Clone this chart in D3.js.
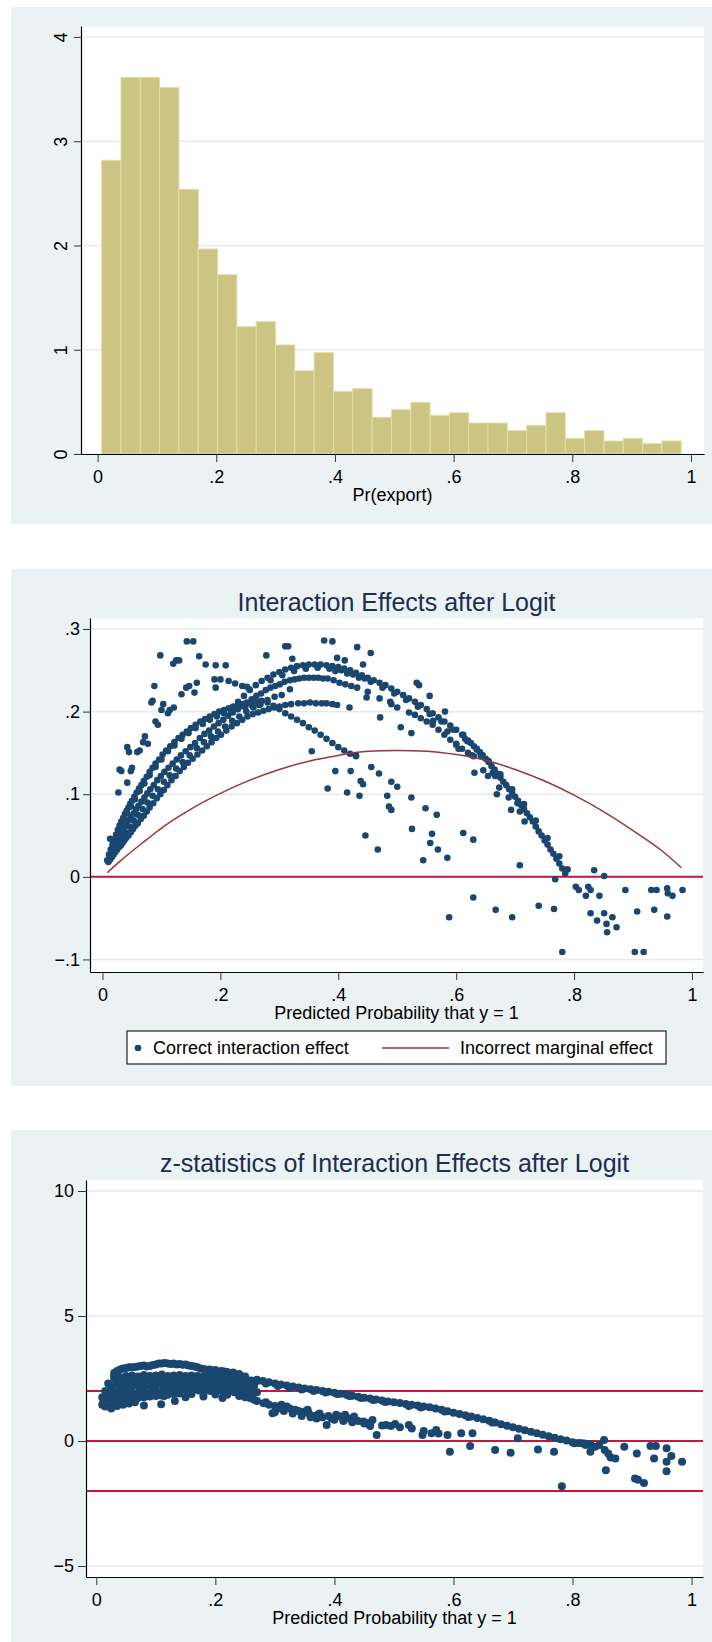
<!DOCTYPE html>
<html>
<head>
<meta charset="utf-8">
<script src="https://cdn.jsdelivr.net/npm/d3@7"></script>
<style>
body { margin: 0; background: #fff; }
text { font-family: "Liberation Sans", Arial, sans-serif; }
</style>
</head>
<body>
<script>
// ---------- data ----------
// histogram of Pr(export): 30 bins, density heights
var histStart = 0.0068, histWidth = 0.03256;
var histDensity = [2.817, 3.613, 3.613, 3.514, 2.539, 1.966, 1.720, 1.221, 1.269, 1.046,
                   0.799, 0.972, 0.601, 0.627, 0.352, 0.425, 0.496, 0.371, 0.396, 0.297,
                   0.297, 0.224, 0.275, 0.396, 0.150, 0.224, 0.125, 0.150, 0.099, 0.125];
var histYTicks = [0, 1, 2, 3, 4];
var probTicks = [0, 0.2, 0.4, 0.6, 0.8, 1];

// interaction effect (panel 2) - bands
var ieBandA = [[.008,.020],[.011,.027],[.014,.033],[.017,.039],[.020,.045],[.023,.051],[.026,.057],[.029,.062],
  [.032,.067],[.035,.071],[.038,.076],[.041,.080],[.044,.084],[.047,.088],[.050,.092],[.054,.097],[.058,.102],
  [.062,.107],[.066,.111],[.070,.116],[.075,.121],[.080,.127],[.085,.132],[.090,.137],[.096,.142],[.102,.148],
  [.108,.153],[.115,.158],[.122,.163],[.129,.168],[.136,.172],[.143,.176],[.150,.180],[.158,.184],[.166,.188],
  [.174,.191],[.182,.194],[.190,.197],[.198,.200],[.206,.202],[.214,.204],[.222,.206],[.230,.207],[.238,.209],
  [.246,.210],[.254,.211],[.262,.212],[.270,.213],
  [.280,.211],[.290,.207],[.300,.203],[.310,.198],[.320,.194],[.330,.190],[.340,.186],[.350,.181],[.360,.177],
  [.370,.172],[.380,.167],[.390,.162],[.400,.157],[.410,.153],[.420,.149],[.430,.146]];
var ieBandA2 = [[.012,.025],[.018,.037],[.024,.049],[.030,.060],[.036,.069],[.042,.077],[.048,.085],[.055,.094],
  [.063,.104],[.071,.113],[.080,.123],[.090,.133],[.100,.142],[.111,.152],[.122,.159],[.134,.167],[.146,.174],
  [.158,.180],[.170,.185],[.182,.190],[.194,.194],[.206,.198],[.218,.201],[.230,.203],[.242,.205],[.254,.207],
  [.266,.208]];
var ieBandB = [[.010,.018],[.013,.021],[.016,.024],[.019,.027],[.022,.030],[.025,.033],[.028,.036],[.031,.038],
  [.034,.041],[.037,.044],[.040,.047],[.044,.050],[.048,.054],[.052,.058],[.056,.062],[.060,.065],[.065,.070],
  [.070,.074],[.075,.079],[.080,.084],[.086,.089],[.092,.095],[.098,.100],[.104,.105],[.110,.111],[.117,.117],
  [.124,.122],[.131,.128],[.138,.133],[.145,.138],[.153,.143],[.161,.148],[.169,.153],[.177,.158],[.185,.163],
  [.193,.168],[.201,.172],[.210,.177],[.219,.182],[.228,.186],[.237,.190],[.246,.194],[.255,.197],[.264,.199],
  [.273,.201],[.282,.203],[.291,.205],[.300,.206],[.310,.208],[.320,.209],
  [.332,.210],[.342,.210],[.352,.211],[.362,.210],[.372,.210],[.380,.210],[.390,.209],[.398,.208]];
var ieBandBC = [[.015,.024],[.021,.032],[.027,.040],[.033,.047],[.039,.054],[.046,.061],[.053,.068],[.060,.075],
  [.068,.082],[.076,.090],[.085,.098],[.094,.106],[.104,.115],[.114,.123],[.125,.131],[.136,.139],[.148,.147],
  [.160,.156],[.172,.163],[.184,.170],[.196,.176],[.208,.182],[.220,.189],[.232,.194],[.244,.200],[.256,.205],
  [.268,.209],[.280,.214],[.292,.218],[.304,.220]];
var ieBandC = [[.011,.020],[.014,.026],[.017,.031],[.020,.036],[.023,.040],[.026,.045],[.029,.049],[.032,.053],
  [.035,.057],[.038,.061],[.041,.064],[.045,.069],[.049,.073],[.053,.077],[.057,.082],[.061,.086],[.066,.091],
  [.071,.096],[.076,.101],[.081,.106],[.087,.111],[.093,.117],[.099,.122],[.105,.127],[.112,.132],[.119,.137],
  [.126,.142],[.133,.147],[.141,.152],[.149,.157],[.157,.162],[.165,.168],[.173,.173],[.181,.177],[.189,.182],
  [.197,.186],[.205,.190],[.213,.195],[.221,.199],[.229,.203],[.237,.207],[.245,.211],[.253,.215],[.261,.219],
  [.269,.222],[.277,.226],[.285,.229],[.293,.231],[.301,.233],[.309,.236],[.318,.238],[.326,.239],[.334,.240],
  [.342,.241],[.350,.241],[.358,.241],[.366,.241],[.374,.240],[.382,.240],
  [.392,.238],[.402,.235],[.412,.233],[.422,.231],[.432,.229],[.450,.224],[.470,.216],[.490,.209],[.500,.205],
  [.520,.199],[.530,.196],[.540,.192],[.550,.188],[.560,.184],[.570,.178],[.580,.172],[.590,.166],[.600,.160],
  [.610,.155],[.620,.150],[.630,.146]];
var ieBandD = [[.220,.205],[.230,.212],[.240,.219],[.250,.226],[.260,.232],[.270,.237],[.280,.241],[.290,.245],
  [.300,.248],[.310,.251],[.320,.253],[.330,.255],[.340,.256],[.350,.257],[.360,.257],[.370,.257],[.380,.256],
  [.390,.255],[.400,.254],[.410,.252],[.420,.250],[.430,.247],[.440,.244],[.450,.241],[.460,.238],[.470,.235],
  [.480,.232],[.490,.228],[.500,.224],[.510,.220],[.520,.216],[.530,.212],[.540,.208],[.550,.203],[.560,.198],
  [.570,.193],[.580,.188],[.590,.183],[.600,.178],[.610,.172],[.620,.165],[.625,.162],[.630,.158],[.635,.155],
  [.640,.151],[.645,.147],[.650,.143],[.655,.139],[.660,.134],[.665,.130],[.670,.125],[.675,.120],[.680,.115],
  [.685,.111],[.690,.106],[.695,.101],[.700,.097],[.705,.092],[.710,.087],[.715,.082],[.720,.077],[.725,.072],
  [.730,.067],[.735,.061],[.740,.055],[.745,.050],[.750,.044],[.755,.039],[.760,.033],[.765,.028],[.770,.022],
  [.775,.016],[.780,.010],[.785,.004],
  [.285,.238],[.305,.244],[.325,.249],[.345,.252],[.365,.253],[.385,.252],[.405,.250],[.425,.245],[.445,.240]];
var ieBandD2 = [[.395,.249],[.415,.246],[.435,.241],[.455,.236],[.475,.229],[.495,.222],[.515,.214],[.535,.206],
  [.555,.197],[.575,.188],[.595,.178],[.615,.167],[.635,.154],[.655,.140],[.675,.124],[.695,.106],[.715,.088],
  [.735,.068],[.755,.047],[.775,.025]];
var ieScatter = [[.013,.046],[.027,.102],[.029,.130],[.032,.128],[.042,.157],[.045,.151],[.042,.114],[.048,.128],
  [.050,.132],[.059,.151],[.063,.153],[.069,.163],[.072,.170],[.077,.161],[.083,.211],[.085,.213],[.088,.231],
  [.090,.188],[.094,.184],[.098,.268],[.100,.202],[.103,.209],[.114,.202],[.120,.258],[.125,.262],[.130,.262],
  [.134,.221],[.111,.198],[.121,.205],[.142,.229],[.147,.231],[.143,.285],[.154,.285],[.160,.235],[.156,.223],
  [.164,.267],[.175,.257],[.190,.239],[.192,.229],[.192,.256],[.200,.239],[.209,.256],[.214,.237],[.225,.234],
  [.237,.231],[.245,.230],[.249,.227],[.278,.268],[.310,.279],[.315,.279],[.322,.264],[.318,.227],[.376,.286],
  [.390,.285],[.398,.265],[.411,.262],[.432,.278],[.455,.271],[.442,.257],[.448,.217],[.471,.193],[.419,.205],
  [.488,.212],[.506,.181],[.524,.174],[.533,.235],[.537,.232],[.555,.219],[.561,.189],[.581,.200],[.585,.176],
  [.355,.152],[.382,.107],[.395,.128],[.415,.102],[.421,.128],[.430,.147],[.436,.098],[.438,.116],[.442,.112],
  [.446,.050],[.456,.133],[.469,.125],[.467,.033],[.483,.098],[.486,.085],[.490,.081],[.490,.115],[.500,.109],
  [.524,.096],[.525,.058],[.548,.083],[.544,.020],[.556,.041],[.559,.052],[.567,.075],[.569,.033],[.585,.023],
  [.588,-.049],[.612,.053],[.629,.045],[.629,-.025],[.667,-.040],[.695,-.049],[.708,.014],[.740,-.035],
  [.766,-.039],[.768,-.003],[.780,-.091],[.789,.009],
  [.600,.161],[.604,.155],[.612,.172],[.619,.164],[.627,.147],[.631,.126],[.642,.147],[.646,.129],[.654,.122],
  [.662,.126],[.666,.122],[.669,.100],[.673,.108],[.689,.096],[.693,.081],[.704,.089],[.708,.079],[.716,.067],
  [.803,-.012],[.808,-.016],[.820,-.023],[.824,-.012],[.828,-.016],[.828,-.044],[.834,.008],[.839,-.053],
  [.843,-.023],[.851,.001],[.851,-.044],[.855,-.057],[.856,-.067],[.865,-.049],[.872,-.061],[.887,-.016],
  [.903,-.091],[.907,-.042],[.918,-.091],[.931,-.016],[.936,-.040],[.940,-.016],[.958,-.014],[.959,-.020],
  [.958,-.048],[.967,-.023],[.984,-.016]];
// incorrect marginal effect curve
var meCurve = [[.008,.005],[.03,.019],[.05,.031],[.075,.045],[.1,.059],[.15,.082],[.2,.101],[.25,.117],[.3,.130],
  [.35,.140],[.4,.147],[.45,.152],[.5,.153],[.55,.152],[.6,.148],[.65,.141],[.7,.130],[.75,.116],[.8,.099],
  [.85,.079],[.9,.056],[.95,.031],[.982,.011]];
var ieYTicks = [-0.1, 0, 0.1, 0.2, 0.3];

// z-statistics (panel 3)
var zTop = [[.03,2.72],[.035,2.8],[.04,2.86],[.045,2.9],[.05,2.92],[.055,2.95],[.06,2.95],[.065,2.96],[.07,2.98],
  [.075,3.0],[.08,3.02],[.085,2.98],[.09,3.0],[.095,3.04],[.10,3.06],[.105,3.1],[.11,3.1],[.115,3.12],[.12,3.1],
  [.125,3.08],[.13,3.1],[.135,3.06],[.14,3.08],[.145,3.05],[.15,3.06],[.155,3.02],[.16,3.0],[.165,2.98],[.17,2.95],
  [.175,2.9],[.18,2.88],[.185,2.85],[.19,2.86],[.195,2.82],[.20,2.84],[.21,2.8],[.215,2.78],[.22,2.76],[.23,2.74],
  [.24,2.68],[.25,2.58],[.03,2.6],[.035,2.65]];
var zCluster = [[.02,2.3],[.03,2.5],[.04,2.55],[.05,2.6],[.06,2.62],[.07,2.58],[.08,2.64],[.09,2.6],[.10,2.62],
  [.11,2.66],[.12,2.6],[.13,2.62],[.14,2.64],[.15,2.6],[.16,2.62],[.17,2.6],[.18,2.58],[.19,2.62],[.20,2.6],
  [.21,2.56],[.22,2.58],[.23,2.52],[.24,2.5],[.25,2.46],[.26,2.42],[.27,2.4],
  [.015,2.0],[.025,2.2],[.035,2.3],[.045,2.36],[.055,2.4],[.065,2.38],[.075,2.42],[.085,2.4],[.095,2.44],
  [.105,2.4],[.115,2.42],[.125,2.45],[.135,2.4],[.145,2.42],[.155,2.44],[.165,2.4],[.175,2.42],[.185,2.38],
  [.195,2.4],[.205,2.36],[.215,2.38],[.225,2.34],[.235,2.3],[.245,2.28],[.255,2.24],[.265,2.2],
  [.01,1.75],[.02,1.9],[.03,2.0],[.04,2.1],[.05,2.15],[.06,2.18],[.07,2.2],[.08,2.16],[.09,2.22],[.10,2.2],
  [.11,2.24],[.12,2.2],[.13,2.22],[.14,2.25],[.15,2.2],[.16,2.22],[.17,2.24],[.18,2.2],[.19,2.18],[.20,2.22],
  [.21,2.16],[.22,2.18],[.23,2.12],[.24,2.1],[.25,2.05],[.26,2.0],[.27,1.95],
  [.012,1.6],[.022,1.7],[.032,1.8],[.042,1.85],[.052,1.9],[.062,1.92],[.072,1.95],[.082,1.9],[.092,2.0],
  [.102,1.96],[.112,2.0],[.122,2.02],[.132,1.98],[.142,2.04],[.152,2.02],[.162,2.06],[.172,2.02],[.182,2.05],
  [.192,2.0],[.202,2.04],[.212,1.98],[.222,2.0],[.232,1.95],[.242,1.9],[.252,1.85],[.262,1.8],
  [.01,1.45],[.02,1.4],[.03,1.55],[.04,1.6],[.05,1.65],[.06,1.7],[.07,1.72],[.08,1.75],[.09,1.78],[.10,1.8],
  [.11,1.82],[.12,1.85],[.13,1.88],[.14,1.9],[.16,1.88],[.18,1.9],[.20,1.86],[.22,1.85],[.24,1.8],[.25,1.75],
  [.015,1.38],[.025,1.3],[.035,1.4],[.045,1.45],[.055,1.5],[.065,1.55],[.08,1.42],[.109,1.47],[.132,1.6],
  [.114,1.8],[.18,1.78],[.212,1.72],[.15,1.75]];
var zUpper = [[.27,2.45],[.28,2.4],[.29,2.35],[.30,2.3],[.31,2.26],[.32,2.22],[.33,2.18],[.34,2.14],[.35,2.1],
  [.36,2.07],[.37,2.04],[.38,2.0],[.39,1.97],[.40,1.93],[.41,1.89],[.42,1.85],[.43,1.81],[.44,1.77],[.45,1.73],
  [.46,1.70],[.47,1.66],[.48,1.62],[.49,1.58],[.50,1.55],[.51,1.52],[.52,1.48],[.53,1.45],[.54,1.42],[.55,1.38],
  [.56,1.35],[.57,1.30],[.58,1.25],[.59,1.19],[.60,1.13],[.61,1.08],[.62,1.03],[.63,.98],[.64,.92],[.65,.87],
  [.66,.81],[.67,.74],[.68,.67],[.69,.61],[.70,.55],[.71,.49],[.72,.43],[.73,.37],[.74,.31],[.75,.25],[.76,.19],
  [.77,.13],[.78,.07],[.79,.02],[.80,-.05],[.81,-.08],[.82,-.1],[.83,-.12],
  [.285,2.3],[.305,2.2],[.325,2.12],[.345,2.06],[.365,2.0],[.385,1.94],[.405,1.88],[.425,1.8],[.445,1.72],
  [.465,1.64],[.485,1.56],[.525,1.4],[.545,1.34],[.585,1.18],[.625,.96],[.665,.74]];
var zLower = [[.258,1.72],[.265,1.65],[.27,1.6],[.281,1.51],[.29,1.45],[.296,1.11],[.30,1.15],[.311,1.45],
  [.32,1.38],[.334,1.25],[.34,1.2],[.35,1.18],[.357,1.11],[.365,1.0],[.372,1.05],[.38,.95],[.387,.64],[.395,.9],
  [.403,1.05],[.41,.98],[.418,1.05],[.425,.9],[.433,.98],[.44,.8],[.449,.78],[.455,.72],[.464,.84],[.471,.24],
  [.48,.62],[.487,.64],[.495,.6],[.502,.68],[.51,.55],[.525,.64],[.53,.5],[.548,.24],[.55,.4],[.563,.31],
  [.571,.44],[.575,.3],[.59,.24],[.594,-.43],[.613,.31],[.628,-.2],[.632,.31],[.670,-.36],[.696,-.47],
  [.708,.11],[.742,-.34],[.769,-.43],[.782,-1.81],
  [.285,1.55],[.30,1.4],[.305,1.3],[.315,1.2],[.325,1.3],[.33,1.1],[.345,1.0],[.355,1.25],[.36,.95],[.37,.9],
  [.375,1.1],[.39,1.0],[.40,.85],[.415,.8],[.43,.75],[.45,.7],[.46,.6],
  [.803,-.09],[.815,-.09],[.822,-.16],[.83,-.43],[.838,-.23],[.845,-.16],[.853,.04],[.854,-.36],[.856,-1.17],
  [.86,-.5],[.864,-.66],[.872,-.7],[.887,-.23],[.905,-1.5],[.908,-.5],[.91,-1.55],[.92,-1.68],[.931,-.2],
  [.937,-.7],[.94,-.2],[.958,-.29],[.958,-.83],[.958,-1.21],[.966,-.6],[.984,-.83]];
var zYTicks = [-5, 0, 5, 10];
var zRefLines = [-2, 0, 2];

// ---------- drawing ----------
var bgColor = "#eaf2f3", gridColor = "#e3ebee", navy = "#1a476f",
    refRed = "#c8163e", curveRed = "#9e3339", titleColor = "#1e2d50";

var svg = d3.select("body").append("svg")
    .attr("width", 712).attr("height", 1642);

function probFormat(d) {
    if (d === 0) return "0";
    if (d === 1) return "1";
    return String(d).replace("0.", ".");
}

function panel(y0, y1, x, y, opts) {
    svg.append("rect").attr("x", 11).attr("y", y0).attr("width", 701).attr("height", y1 - y0)
        .attr("fill", bgColor);
    var xr = x.range(), yr = y.range();
    svg.append("rect").attr("x", xr[0]).attr("y", yr[1]).attr("width", xr[1] - xr[0])
        .attr("height", yr[0] - yr[1]).attr("fill", "#fff");
    // gridlines
    svg.append("g").selectAll("line").data(opts.yTicks).enter().append("line")
        .attr("x1", xr[0]).attr("x2", xr[1])
        .attr("y1", function(d) { return y(d); }).attr("y2", function(d) { return y(d); })
        .attr("stroke", gridColor).attr("stroke-width", 1.6);
    var g = svg.append("g");
    return g;
}

function drawAxes(x, y, opts) {
    var xr = x.range(), yr = y.range();
    var gx = svg.append("g").attr("transform", "translate(0," + yr[0] + ")")
        .call(d3.axisBottom(x).tickValues(probTicks).tickFormat(probFormat)
            .tickSize(8).tickPadding(8).tickSizeOuter(0));
    var gy = svg.append("g").attr("transform", "translate(" + xr[0] + ",0)")
        .call(d3.axisLeft(y).tickValues(opts.yTicks).tickFormat(opts.yFormat)
            .tickSize(opts.yTickSize).tickPadding(opts.yPad).tickSizeOuter(0));
    [gx, gy].forEach(function(a) {
        a.select(".domain").attr("stroke", "#000").attr("stroke-width", 1.2);
        a.selectAll(".tick line").attr("stroke", "#333").attr("stroke-width", 1);
        a.selectAll("text").attr("font-size", "18px").attr("fill", "#000")
            .attr("font-family", '"Liberation Sans", Arial, sans-serif');
    });
    if (opts.rotateY) {
        gy.selectAll(".tick text").attr("text-anchor", "middle").attr("x", 0).attr("dy", 0)
            .attr("transform", "translate(-14,0) rotate(-90)");
    }
    svg.append("text").attr("x", (xr[0] + xr[1]) / 2).attr("y", opts.xTitleY)
        .attr("text-anchor", "middle").attr("font-size", "18px").attr("fill", "#000")
        .text(opts.xTitle);
    if (opts.title) {
        svg.append("text").attr("x", (xr[0] + xr[1]) / 2).attr("y", opts.titleY)
            .attr("text-anchor", "middle").attr("font-size", "25px").attr("fill", titleColor)
            .text(opts.title);
    }
}

function dots(g, data, x, y, r) {
    g.selectAll(null).data(data).enter().append("circle")
        .attr("cx", function(d) { return x(d[0]); })
        .attr("cy", function(d) { return y(d[1]); })
        .attr("r", r).attr("fill", navy);
}

// ---- panel 1: histogram ----
var x1 = d3.scaleLinear().domain([-0.028, 1.022]).range([81, 704]);
var y1 = d3.scaleLinear().domain([0, 4.105]).range([454, 26]);
var g1 = panel(7, 524, x1, y1, { yTicks: histYTicks.slice(1) });
g1.selectAll("rect").data(histDensity).enter().append("rect")
    .attr("x", function(d, i) { return x1(histStart + i * histWidth); })
    .attr("width", function(d, i) { return x1(histStart + (i + 1) * histWidth) - x1(histStart + i * histWidth); })
    .attr("y", function(d) { return y1(d); })
    .attr("height", function(d) { return y1(0) - y1(d); })
    .attr("fill", "#cbc482").attr("stroke", "#e2deaa").attr("stroke-width", 1);
drawAxes(x1, y1, { yTicks: histYTicks, yFormat: d3.format("d"), yTickSize: 7, yPad: 7,
    rotateY: true, xTitle: "Pr(export)", xTitleY: 501 });

// ---- panel 2: interaction effects ----
var x2 = d3.scaleLinear().domain([-0.0212, 1.0187]).range([90, 703]);
var y2 = d3.scaleLinear().domain([-0.1152, 0.3133]).range([972, 618]);
var g2 = panel(569, 1086, x2, y2, { yTicks: ieYTicks });
g2.append("line").attr("x1", 90).attr("x2", 703).attr("y1", y2(0)).attr("y2", y2(0))
    .attr("stroke", refRed).attr("stroke-width", 2);
dots(g2, ieBandA.concat(ieBandA2, ieBandB, ieBandBC, ieBandC, ieBandD, ieBandD2, ieScatter), x2, y2, 3.3);
g2.append("path").datum(meCurve)
    .attr("d", d3.line().x(function(d) { return x2(d[0]); }).y(function(d) { return y2(d[1]); })
        .curve(d3.curveMonotoneX))
    .attr("fill", "none").attr("stroke", curveRed).attr("stroke-width", 1.5);
drawAxes(x2, y2, { yTicks: ieYTicks,
    yFormat: function(d) { return d === 0 ? "0" : d3.format(".1f")(d).replace("0.", "."); },
    yTickSize: 7, yPad: 3, xTitle: "Predicted Probability that y = 1", xTitleY: 1019,
    title: "Interaction Effects after Logit", titleY: 611 });

// legend
var leg = svg.append("g");
leg.append("rect").attr("x", 127).attr("y", 1031).attr("width", 539).attr("height", 33)
    .attr("fill", "#fff").attr("stroke", "#222").attr("stroke-width", 1.2);
leg.append("circle").attr("cx", 138).attr("cy", 1048).attr("r", 3.3).attr("fill", navy);
leg.append("text").attr("x", 153).attr("y", 1054).attr("font-size", "18px").text("Correct interaction effect");
leg.append("line").attr("x1", 382).attr("x2", 449).attr("y1", 1048).attr("y2", 1048)
    .attr("stroke", curveRed).attr("stroke-width", 1.5);
leg.append("text").attr("x", 460).attr("y", 1054).attr("font-size", "18px").text("Incorrect marginal effect");

// ---- panel 3: z-statistics ----
var x3 = d3.scaleLinear().domain([-0.0173, 1.0192]).range([86, 703]);
var y3 = d3.scaleLinear().domain([-5.44, 10.44]).range([1577, 1180]);
var g3 = panel(1130, 1642, x3, y3, { yTicks: zYTicks });
g3.selectAll("line.ref").data(zRefLines).enter().append("line")
    .attr("x1", 86).attr("x2", 703)
    .attr("y1", function(d) { return y3(d); }).attr("y2", function(d) { return y3(d); })
    .attr("stroke", refRed).attr("stroke-width", 2);
dots(g3, zTop.concat(zCluster, zUpper, zLower), x3, y3, 4);
drawAxes(x3, y3, { yTicks: zYTicks, yFormat: d3.format("d"), yTickSize: 8, yPad: 4,
    xTitle: "Predicted Probability that y = 1", xTitleY: 1624,
    title: "z-statistics of Interaction Effects after Logit", titleY: 1172 });
</script>
</body>
</html>
